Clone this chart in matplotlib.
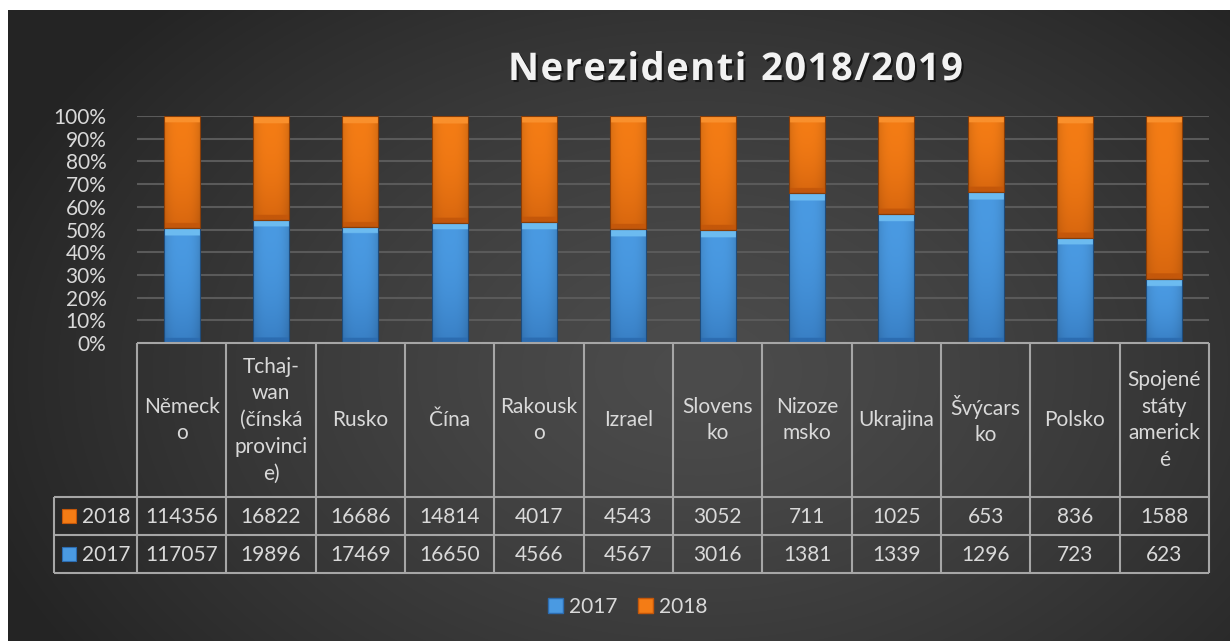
import numpy as np
import matplotlib.pyplot as plt
from matplotlib.patches import Rectangle, Patch
from matplotlib.colors import to_rgb
import matplotlib.patheffects as pe
from matplotlib.ticker import PercentFormatter

plt.rcParams['font.family'] = ['Lato', 'DejaVu Sans']

# data
countries = ['Německo', 'Tchaj-wan (čínská provincie)', 'Rusko', 'Čína', 'Rakousko', 'Izrael',
             'Slovensko', 'Nizozemsko', 'Ukrajina', 'Švýcarsko', 'Polsko', 'Spojené státy americké']
header_labels = ['Německ\no', 'Tchaj-\nwan\n(čínská\nprovinci\ne)', 'Rusko', 'Čína', 'Rakousk\no',
                 'Izrael', 'Slovens\nko', 'Nizoze\nmsko', 'Ukrajina', 'Švýcars\nko', 'Polsko',
                 'Spojené\nstáty\namerick\né']
v2017 = [117057, 19896, 17469, 16650, 4566, 4567, 3016, 1381, 1339, 1296, 723, 623]
v2018 = [114356, 16822, 16686, 14814, 4017, 4543, 3052, 711, 1025, 653, 836, 1588]
title = 'Nerezidenti 2018/2019'

W, H = 1230, 641
TXT = '#d9d9d9'
GRID = '#5a5a5a'
LINE = '#a6a6a6'
BLUE = ('#4a9ae2', '#8fdcff', '#2c6cb0')
ORANGE = ('#f47c15', '#ffa445', '#c4570a')

fig = plt.figure(figsize=(W / 100, H / 100), dpi=100, facecolor='white')

# background gradient
bg = fig.add_axes([8 / W, 0, 1 - 8 / W, 1 - 10 / H], zorder=0)
yy, xx = np.mgrid[0:631, 0:1222]
r = np.sqrt(((xx - 690) / 760.0) ** 2 + ((yy - 360) / 520.0) ** 2)
r = np.clip(r, 0, 1)
lo, hi = np.array(to_rgb('#4c4c4c')), np.array(to_rgb('#242424'))
img = lo + (hi - lo) * (r[..., None] ** 1.3)
bg.imshow(img, aspect='auto', interpolation='bilinear')
bg.axis('off')

# bar axes
ax = fig.add_axes([137 / W, 1 - 343 / H, (1209 - 137) / W, (343 - 116) / H], zorder=2)
ax.set_facecolor('none')

totals = np.array(v2017) + np.array(v2018)
share17 = np.array(v2017) / totals
share18 = np.array(v2018) / totals
x = np.arange(len(countries))
bw = 0.4
px_per_unit = 227.0


def shaded(xc, bottom, height, cols):
    base, light, dark = [np.array(to_rgb(c)) for c in cols]
    n, m = 200, 40
    hp = height * px_per_unit
    ty = np.linspace(0, 1, n)[:, None]  # 0 bottom -> 1 top
    tx = np.linspace(-1, 1, m)[None, :]
    col = base + (dark - base)[None, None, :] * ((1 - ty) ** 2 * 0.6)[..., None]
    col = col * (1 - 0.12 * (np.abs(tx) ** 3))[..., None]
    top = ((1 - ty) * hp < 7)[..., None]
    col = np.where(top, light * 0.5 + base * 0.5 + 0 * tx[..., None], col)
    bot = (ty * hp < 5)[..., None]
    col = np.where(bot, dark + 0 * tx[..., None], col)
    ax.imshow(np.clip(col, 0, 1), extent=(xc - bw / 2, xc + bw / 2, bottom, bottom + height),
              origin='lower', aspect='auto', interpolation='bilinear', zorder=3)
    ax.add_patch(Rectangle((xc - bw / 2, bottom), bw, height, facecolor='none',
                           edgecolor=dark * 0.7, lw=0.8, zorder=4))


for i in x:
    shaded(i, 0, share17[i], BLUE)
    shaded(i, share17[i], share18[i], ORANGE)

ax.set_xlim(-0.5, len(countries) - 0.5)
ax.set_ylim(0, 1)
ax.set_yticks(np.arange(0, 1.01, 0.1))
ax.yaxis.set_major_formatter(PercentFormatter(1.0, decimals=0))
ax.tick_params(axis='y', length=0, pad=22, labelsize=15, labelcolor=TXT)
ax.set_xticks([])
ax.grid(axis='y', color=GRID, lw=1.5)
ax.set_axisbelow(True)
for s in ax.spines.values():
    s.set_visible(False)

# data table drawn in pixel coordinates
tab = fig.add_axes([0, 0, 1, 1], zorder=3)
tab.set_facecolor('none')
tab.set_xlim(0, W)
tab.set_ylim(H, 0)
tab.axis('off')

xs = np.linspace(137, 1209, len(countries) + 1)
y0, y1, y2, y3 = 343, 497, 535, 573
lab_left = 54
tab.hlines(y0, xs[0], xs[-1], color=LINE, lw=1.5)
tab.hlines([y1, y2, y3], lab_left, xs[-1], color=LINE, lw=1.5)
tab.vlines(xs, y0, y3, color=LINE, lw=1.5)
tab.vlines(lab_left, y1, y3, color=LINE, lw=1.5)

for i, lab in enumerate(header_labels):
    xc = (xs[i] + xs[i + 1]) / 2
    tab.text(xc, (y0 + y1) / 2, lab, ha='center', va='center', fontsize=15,
             color=TXT, linespacing=1.42)
    tab.text(xc, (y1 + y2) / 2 + 1, str(v2018[i]), ha='center', va='center', fontsize=15, color=TXT)
    tab.text(xc, (y2 + y3) / 2 + 1, str(v2017[i]), ha='center', va='center', fontsize=15, color=TXT)

for yc, name, cols in [((y1 + y2) / 2, '2018', ORANGE), ((y2 + y3) / 2, '2017', BLUE)]:
    tab.add_patch(Rectangle((62, yc - 7), 14, 14, facecolor=cols[0], edgecolor=cols[2], lw=0.8))
    tab.text(82, yc + 1, name, ha='left', va='center', fontsize=15, color=TXT)

# title, letter-spaced like the Excel original
renderer = fig.canvas.get_renderer()
tprops = dict(fontsize=27.5, fontweight='bold', family=['Open Sans', 'DejaVu Sans'])
widths = []
for ch in title:
    t = fig.text(0, 0, ch if ch != ' ' else 'i', **tprops)
    widths.append(t.get_window_extent(renderer).width)
    t.remove()
gap = max(0.0, (455 - sum(widths)) / (len(title) - 1))
xpos = 508.0
shadow = [pe.withSimplePatchShadow(offset=(1.5, -1.5), shadow_rgbFace='black', alpha=0.6)]
for ch, w in zip(title, widths):
    if ch != ' ':
        fig.text(xpos / W, 1 - 80 / H, ch, ha='left', va='baseline', color='#f2f2f2',
                 path_effects=shadow, **tprops)
    xpos += w + gap

# legend
handles = [Patch(facecolor=BLUE[0], edgecolor=BLUE[2], label='2017'),
           Patch(facecolor=ORANGE[0], edgecolor=ORANGE[2], label='2018')]
fig.legend(handles=handles, loc='center', bbox_to_anchor=(628 / W, 1 - 607 / H), ncol=2,
           frameon=False, fontsize=15, labelcolor=TXT, handlelength=0.7, handleheight=0.7,
           handletextpad=0.3, columnspacing=1.0)

fig.savefig('out.png', dpi=100, facecolor=fig.get_facecolor())
